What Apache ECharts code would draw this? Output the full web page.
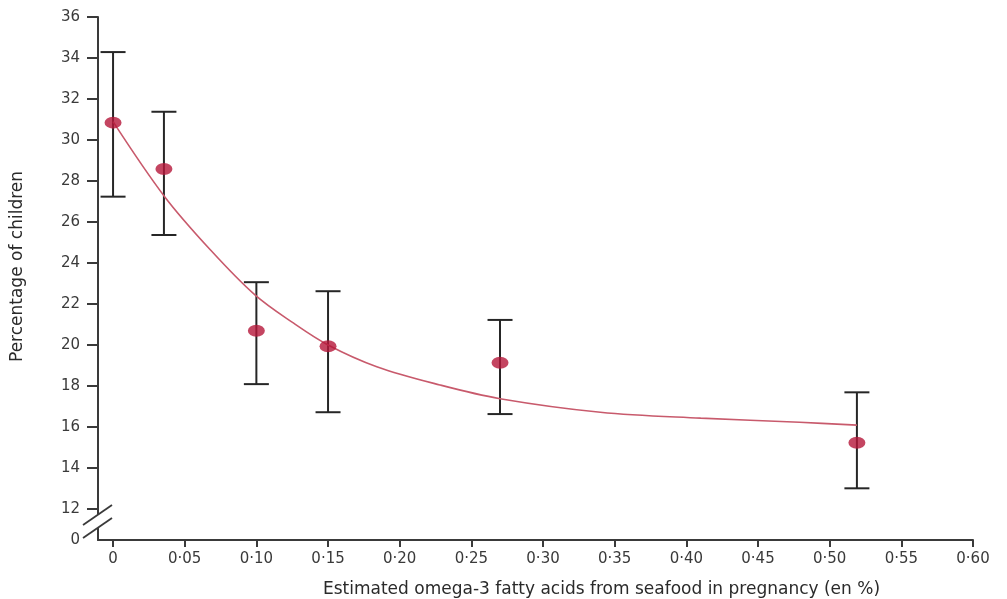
<!DOCTYPE html>
<html><head><meta charset="utf-8">
<script src="https://cdn.jsdelivr.net/npm/echarts@6/dist/echarts.min.js"></script>
<style>html,body{margin:0;padding:0;background:#fff}#c{width:1007px;height:599px}</style>
</head><body><div id="c"></div>
<script>
// Data
const xValues     = [0, 0.0355, 0.10, 0.15, 0.27, 0.519];
const meanValues  = [30.85, 28.59, 20.70, 19.95, 19.14, 15.24];
const upperValues = [34.29, 31.38, 23.07, 22.63, 21.23, 17.70];
const lowerValues = [27.24, 25.37, 18.10, 16.73, 16.64, 13.02];
// fitted curve
const curveX = [0, 0.036, 0.068, 0.099, 0.126, 0.150, 0.184, 0.228, 0.270, 0.340, 0.410, 0.479, 0.519];
const curveY = [30.9, 27.24, 24.64, 22.45, 21.07, 20.01, 18.95, 18.06, 17.39, 16.73, 16.44, 16.24, 16.10];
// axes
const xTicks = [0, 0.05, 0.10, 0.15, 0.20, 0.25, 0.30, 0.35, 0.40, 0.45, 0.50, 0.55, 0.60];
const yTicks = [12, 14, 16, 18, 20, 22, 24, 26, 28, 30, 32, 34, 36];
const xMin = -0.0105, xMax = 0.60;
const yMin = 10.5, yMax = 36;        // broken axis: yMin is labelled "0"
const breakMarks = [11.72, 11.085];  // positions of the two break slashes

const chart = echarts.init(document.getElementById('c'));
const axisColor = '#3a3a3a';
const labelFont = { fontFamily: 'DejaVu Sans', fontSize: 15, color: '#3a3a3a' };

chart.setOption({
  animation: false,
  backgroundColor: '#fff',
  grid: { left: 98, right: 34, top: 17, bottom: 59, containLabel: false, outerBoundsMode: 'none' },
  xAxis: {
    type: 'value', min: xMin, max: xMax,
    name: 'Estimated omega-3 fatty acids from seafood in pregnancy (en %)',
    nameLocation: 'middle', nameGap: 41,
    nameTextStyle: { fontFamily: 'DejaVu Sans', fontSize: 17, color: '#2a2a2a', padding: [0, 0, 0, 132] },
    axisLine: { show: true, onZero: false, lineStyle: { color: axisColor, width: 2 } },
    axisTick: { show: true, length: 7, lineStyle: { color: axisColor, width: 2 }, customValues: xTicks },
    axisLabel: Object.assign({ margin: 12, customValues: xTicks,
      formatter: v => v === 0 ? '0' : v.toFixed(2).replace('.', '·') }, labelFont),
    splitLine: { show: false }
  },
  yAxis: {
    type: 'value', min: yMin, max: yMax,
    name: 'Percentage of children',
    nameLocation: 'middle', nameGap: 72,
    nameTextStyle: { fontFamily: 'DejaVu Sans', fontSize: 17, color: '#2a2a2a', padding: [0, 0, 0, 24] },
    axisLine: { show: true, onZero: false, lineStyle: { color: axisColor, width: 2 } },
    axisTick: { show: true, length: 11, lineStyle: { color: axisColor, width: 2 }, customValues: yTicks },
    axisLabel: Object.assign({ margin: 18, customValues: [yMin].concat(yTicks),
      formatter: v => v === yMin ? '0' : String(Math.round(v)) }, labelFont),
    splitLine: { show: false }
  },
  series: [
    {
      type: 'line', smooth: 0.35, symbol: 'none', z: 3,
      data: curveX.map((x, i) => [x, curveY[i]]),
      lineStyle: { color: '#c85a6c', width: 1.6 }
    },
    {
      type: 'custom', z: 2,
      data: xValues.map((x, i) => [x, lowerValues[i], upperValues[i]]),
      renderItem: (params, api) => {
        const lo = api.coord([api.value(0), api.value(1)]);
        const hi = api.coord([api.value(0), api.value(2)]);
        const hw = 12.5;
        const st = { stroke: '#262626', lineWidth: 2 };
        return { type: 'group', children: [
          { type: 'line', shape: { x1: lo[0], y1: lo[1], x2: hi[0], y2: hi[1] }, style: st },
          { type: 'line', shape: { x1: lo[0] - hw, y1: lo[1], x2: lo[0] + hw, y2: lo[1] }, style: st },
          { type: 'line', shape: { x1: hi[0] - hw, y1: hi[1], x2: hi[0] + hw, y2: hi[1] }, style: st }
        ]};
      }
    },
    {
      type: 'scatter', z: 4,
      data: xValues.map((x, i) => [x, meanValues[i]]),
      symbol: 'circle', symbolSize: [17, 12],
      itemStyle: { color: '#b5173a' }
    },
    {
      type: 'custom', z: 5, silent: true,
      data: [[xMin, breakMarks[0], breakMarks[1]]],
      renderItem: (params, api) => {
        const a = api.coord([api.value(0), api.value(1)]);
        const b = api.coord([api.value(0), api.value(2)]);
        const st = { stroke: '#3a3a3a', lineWidth: 1.8 };
        return { type: 'group', children: [
          { type: 'rect', shape: { x: a[0] - 3, y: a[1], width: 6, height: b[1] - a[1] }, style: { fill: '#fff' } },
          { type: 'line', shape: { x1: a[0] - 15, y1: a[1] + 10, x2: a[0] + 14, y2: a[1] - 10 }, style: st },
          { type: 'line', shape: { x1: b[0] - 15, y1: b[1] + 10, x2: b[0] + 14, y2: b[1] - 10 }, style: st }
        ]};
      }
    }
  ]
});
</script></body></html>
